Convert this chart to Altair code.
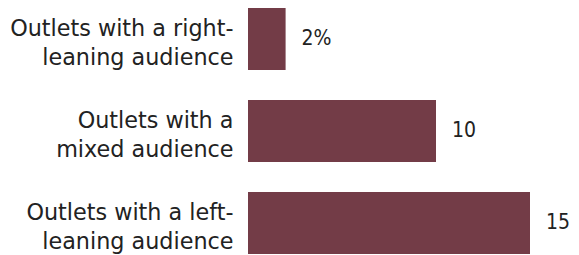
import altair as alt
import pandas as pd

categories = [
    "Outlets with a right-|leaning audience",
    "Outlets with a|mixed audience",
    "Outlets with a left-|leaning audience",
]
values = [2, 10, 15]
value_labels = ["2%", "10", "15"]

df = pd.DataFrame({"cat": categories, "val": values, "lab": value_labels})

FONT = "DejaVu Sans, sans-serif"
VFONT = "DejaVu Sans Condensed, DejaVu Sans, sans-serif"

y = alt.Y(
    "cat:N",
    sort=categories,
    scale=alt.Scale(paddingInner=0.326, paddingOuter=0),
    axis=alt.Axis(
        title=None,
        ticks=False,
        domain=False,
        labelExpr="split(datum.label, '|')",
        labelFont=FONT,
        labelFontSize=22.3,
        labelColor="#222222",
        labelLineHeight=29,
        labelPadding=15,
        labelOffset=-10,
        labelAlign="right",
        labelBaseline="middle",
        labelLimit=300,
    ),
)
x = alt.X("val:Q", scale=alt.Scale(domain=[0, 15], nice=False), axis=None)

bars = alt.Chart(df).mark_bar(color="#733c47").encode(x=x, y=y)
text = alt.Chart(df).mark_text(
    align="left", baseline="middle", dx=16, font=VFONT, fontSize=21, color="#222222"
).encode(x=x, y=y, text="lab:N")

chart = (
    (bars + text)
    .properties(
        width=282,
        height=246,
        autosize=alt.AutoSizeParams(type="none"),
        padding={"left": 240, "top": 0, "right": 41, "bottom": 0},
    )
    .configure_view(stroke=None)
)

chart.save("out.html", embed_options={"renderer": "svg", "actions": False})
